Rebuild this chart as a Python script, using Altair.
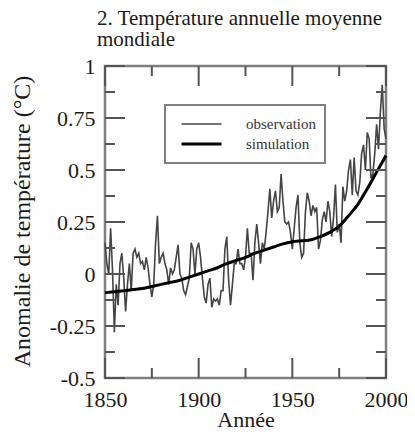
import altair as alt
import pandas as pd

# ---- data ----
obs_years = list(range(1850, 2001))
observation = [
    0.15, 0.05, 0.00, 0.22, 0.02, -0.28, -0.05, -0.15, 0.05, 0.10,    # 1850s
    -0.02, -0.18, -0.05, 0.05, -0.08, 0.10, 0.12, 0.08, 0.10, 0.05,   # 1860s
    0.06, 0.02, 0.08, 0.03, -0.05, -0.11, -0.05, 0.15, 0.28, 0.05,    # 1870s
    0.08, 0.10, 0.05, 0.02, -0.05, 0.03, 0.00, 0.02, 0.08, 0.14,      # 1880s
    0.00, -0.02, -0.08, -0.10, -0.06, -0.02, 0.15, 0.12, 0.00, 0.12,  # 1890s
    0.15, 0.08, -0.02, -0.11, -0.14, -0.05, -0.02, -0.16, -0.12, -0.13,  # 1900s
    -0.12, -0.15, -0.08, -0.08, 0.12, 0.18, -0.03, -0.15, -0.05, 0.05,   # 1910s
    0.05, 0.12, 0.05, 0.05, 0.02, 0.08, 0.22, 0.10, 0.10, -0.03,      # 1920s
    0.15, 0.24, 0.15, 0.05, 0.15, 0.12, 0.20, 0.30, 0.41, 0.27,       # 1930s
    0.35, 0.40, 0.30, 0.32, 0.48, 0.35, 0.25, 0.24, 0.25, 0.20,       # 1940s
    0.12, 0.22, 0.32, 0.38, 0.15, 0.08, 0.10, 0.30, 0.39, 0.35,       # 1950s
    0.28, 0.33, 0.30, 0.32, 0.12, 0.16, 0.26, 0.30, 0.25, 0.35,       # 1960s
    0.30, 0.18, 0.27, 0.43, 0.20, 0.24, 0.15, 0.42, 0.35, 0.40,       # 1970s
    0.50, 0.55, 0.38, 0.56, 0.40, 0.38, 0.44, 0.58, 0.62, 0.50,       # 1980s
    0.68, 0.65, 0.46, 0.48, 0.58, 0.72, 0.60, 0.78, 0.91, 0.70,       # 1990s
    0.65,                                                             # 2000
]

sim_years = list(range(1850, 2001, 5))
simulation = [
    -0.09, -0.085, -0.08, -0.075, -0.07, -0.06, -0.05, -0.04, -0.03, -0.015,
    0.00, 0.015, 0.03, 0.05, 0.065, 0.08, 0.10, 0.115, 0.13, 0.145,
    0.155, 0.16, 0.165, 0.18, 0.20, 0.23, 0.28, 0.335, 0.41, 0.49,
    0.57,
]

series_names = ["observation", "simulation"]
series_colors = ["#444444", "#000000"]
series_widths = [1.6, 3]

x_major = [1850, 1900, 1950, 2000]
x_minor = [1875, 1925, 1975]
y_major = [-0.5, -0.25, 0, 0.25, 0.5, 0.75, 1]
y_minor = [-0.375, -0.125, 0.125, 0.375, 0.625, 0.875]

x_title = "Année"
y_title = "Anomalie de température (°C)"
chart_title = ["2. Température annuelle moyenne", "\u00a0mondiale"]

# ---- tables ----
obs_df = pd.DataFrame({"year": obs_years, "anomaly": observation, "series": series_names[0]})
sim_df = pd.DataFrame({"year": sim_years, "anomaly": simulation, "series": series_names[1]})

W, H = 281, 312
FONT = "Liberation Serif"
TICK_COLOR = "#555555"

xscale = alt.Scale(domain=[1850, 2000], nice=False, zero=False)
yscale = alt.Scale(domain=[-0.5, 1], nice=False, zero=False)

x_axis = alt.Axis(values=x_major, format="d", ticks=False, tickSize=0, domain=False,
                  grid=False, labelFlush=False, labelOverlap=False, labelPadding=11,
                  titleY=48, titleBaseline="alphabetic")
y_axis = alt.Axis(values=y_major, labelExpr="toString(datum.value)", ticks=False,
                  tickSize=0, domain=False, grid=False, labelFlush=False,
                  labelOverlap=False, labelPadding=10, titleX=-76, titleY=155,
                  titleAngle=-90, titleAlign="center", titleBaseline="alphabetic",
                  titleFontSize=24)


def X():
    return alt.X("year:Q", scale=xscale, axis=x_axis, title=x_title)


def Y():
    return alt.Y("anomaly:Q", scale=yscale, axis=y_axis, title=y_title)


color_enc = alt.Color("series:N", scale=alt.Scale(domain=series_names, range=series_colors),
                      legend=alt.Legend(title=None))
width_enc = alt.StrokeWidth("series:N", scale=alt.Scale(domain=series_names, range=series_widths),
                            legend=alt.Legend(title=None))

obs_line = alt.Chart(obs_df).mark_line().encode(
    x=X(), y=Y(), color=color_enc, strokeWidth=width_enc
)
sim_line = alt.Chart(sim_df).mark_line(interpolate="monotone").encode(
    x=X(), y=Y(), color=color_enc, strokeWidth=width_enc
)


def xticks(vals, length, top):
    df = pd.DataFrame({"year": vals})
    if top:
        y0, y1 = 0, length
    else:
        y0, y1 = H, H - length
    return alt.Chart(df).mark_rule(color=TICK_COLOR, strokeWidth=2).encode(
        x=X(), y=alt.value(y0), y2=alt.value(y1)
    )


def yticks(vals, length, right):
    df = pd.DataFrame({"anomaly": vals})
    if right:
        x0, x1 = W, W - length
    else:
        x0, x1 = 0, length
    return alt.Chart(df).mark_rule(color=TICK_COLOR, strokeWidth=2).encode(
        y=Y(), x=alt.value(x0), x2=alt.value(x1)
    )


tick_layers = [
    xticks(x_major, 20, False), xticks(x_minor, 10, False),
    xticks(x_major, 20, True), xticks(x_minor, 10, True),
    yticks(y_major, 20, False), yticks(y_minor, 10, False),
    yticks(y_major, 20, True), yticks(y_minor, 10, True),
]

chart = alt.layer(obs_line, sim_line, *tick_layers).properties(
    width=W, height=H,
    autosize=alt.AutoSizeParams(type="none"),
    padding={"left": 97, "top": 58, "right": 21, "bottom": 51},
    title=alt.TitleParams(text=chart_title, anchor="start", frame="group", dx=-8, dy=33,
                          offset=17, fontSize=21, font=FONT, fontWeight="normal",
                          color="#1a1a1a", lineHeight=21, baseline="bottom"),
).configure_view(
    stroke="#808080", strokeWidth=2.5
).configure_axis(
    labelFont=FONT, labelFontSize=22, labelColor="#1a1a1a",
    titleFont=FONT, titleFontSize=22, titleFontWeight="normal", titleColor="#1a1a1a",
).configure_legend(
    orient="none", legendX=60, legendY=39, padding=9, strokeColor="#808080", strokeWidth=2,
    fillColor="white", cornerRadius=0, symbolType="stroke", symbolSize=1600, clipHeight=20,
    rowPadding=0, symbolOffset=6, labelOffset=23, labelFont=FONT, labelFontSize=15,
    labelColor="#333333",
)

chart.save("out.html", embed_options={"renderer": "svg", "actions": False})
